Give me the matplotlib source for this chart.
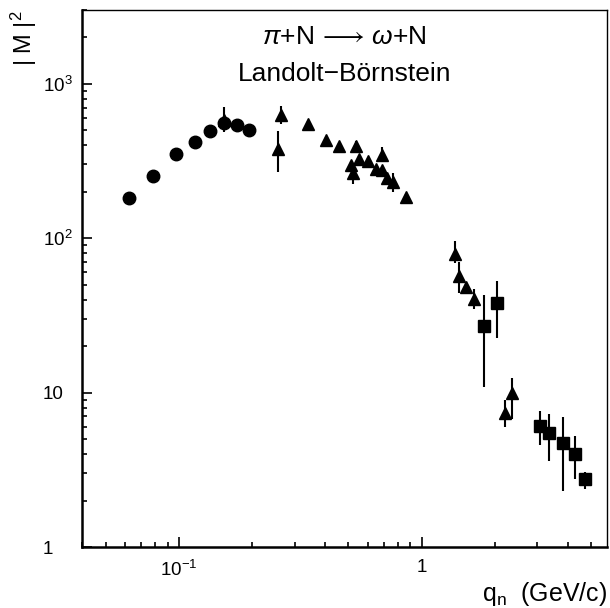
import numpy as np
import matplotlib
matplotlib.use('Agg')
import matplotlib.pyplot as plt
from matplotlib.ticker import FixedLocator, FixedFormatter, LogLocator, NullFormatter

plt.rcParams['font.family'] = ['Liberation Sans', 'DejaVu Sans']
plt.rcParams['mathtext.fontset'] = 'custom'
plt.rcParams['mathtext.rm'] = 'Liberation Sans'
plt.rcParams['mathtext.it'] = 'Liberation Sans:italic'
plt.rcParams['mathtext.bf'] = 'Liberation Sans:bold'

# --- data (q_n in GeV/c, |M|^2)
circ_x = [0.0623, 0.0784, 0.0972, 0.1167, 0.135, 0.154, 0.174, 0.194]
circ_y = [183, 251, 349, 422, 494, 557, 537, 504]

tri_x = [0.154, 0.256, 0.265, 0.342, 0.403, 0.457, 0.511, 0.524, 0.535, 0.552,
         0.601, 0.647, 0.687, 0.689, 0.722, 0.765, 0.865,
         1.37, 1.42, 1.52, 1.65, 2.20, 2.36]
tri_y = [585, 378, 631, 551, 432, 393, 299, 264, 393, 327,
         314, 281, 347, 277, 245, 230, 185,
         79, 56.5, 48.2, 40.5, 7.35, 9.9]
tri_lo = [490, 267, 549, 530, 415, 378, 285, 225, 360, 310,
          300, 270, 320, 265, 235, 198, 178,
          69, 44, 46, 35, 6.0, 6.7]
tri_hi = [711, 497, 721, 572, 450, 410, 315, 280, 425, 345,
          330, 292, 387, 290, 256, 265, 192,
          96, 69.6, 51, 47, 9.0, 12.5]

sq_x = [1.80, 2.04, 3.06, 3.35, 3.83, 4.28, 4.69]
sq_y = [27, 38, 6.1, 5.45, 4.7, 4.0, 2.75]
sq_lo = [10.8, 22.5, 4.6, 3.6, 2.3, 2.75, 2.38]
sq_hi = [43, 53, 7.6, 7.25, 6.9, 5.2, 3.08]

xticks = [0.1, 1]
xlabels = ['10$^{-1}$', '1']
yticks = [1, 10, 100, 1000]
ylabels = ['1', '10', '10$^{2}$', '10$^{3}$']


def errs(y, lo, hi):
    y = np.array(y)
    return [y - np.array(lo), np.array(hi) - y]


fig = plt.figure(figsize=(6.10, 6.08), dpi=100)
ax = fig.add_axes([82/610, 61/608, 525/610, 537/608])
ax.set_xscale('log')
ax.set_yscale('log')
ax.set_xlim(0.04, 5.8)
ax.set_ylim(1, 3000)

ax.plot(circ_x, circ_y, 'o', color='black', ms=9, zorder=3)
ax.errorbar(tri_x, tri_y, yerr=errs(tri_y, tri_lo, tri_hi), fmt='^', color='black',
            ms=9, elinewidth=1.5, capsize=0, zorder=4)
ax.errorbar(sq_x, sq_y, yerr=errs(sq_y, sq_lo, sq_hi), fmt='s', color='black',
            ms=9, elinewidth=1.5, capsize=0, zorder=4)

for s in ['top', 'right']:
    ax.spines[s].set_linewidth(1.0)
for s in ['left', 'bottom']:
    ax.spines[s].set_linewidth(1.8)

ax.xaxis.set_major_locator(FixedLocator(xticks))
ax.xaxis.set_major_formatter(FixedFormatter(xlabels))
ax.xaxis.set_minor_locator(LogLocator(base=10, subs=np.arange(2, 10)))
ax.xaxis.set_minor_formatter(NullFormatter())
ax.yaxis.set_major_locator(FixedLocator(yticks))
ax.yaxis.set_major_formatter(FixedFormatter(ylabels))
ax.yaxis.set_minor_locator(LogLocator(base=10, subs=np.arange(2, 10)))
ax.yaxis.set_minor_formatter(NullFormatter())

ax.tick_params(which='both', direction='in', top=False, right=False, width=1.2)
ax.tick_params(which='major', length=7, labelsize=13.5)
ax.tick_params(which='minor', length=3.5)
ax.tick_params(axis='x', which='major', pad=9)
ax.tick_params(axis='y', which='major', pad=28)
for lab in ax.get_yticklabels():
    lab.set_horizontalalignment('left')

fig.text(24/610, 1 - 10/608, '| M |$^2$', rotation=90, ha='center', va='top', fontsize=17)
fig.text(607/610, 1 - 594/608, 'q$_{\\rm n}$  (GeV/c)', ha='right', va='center', fontsize=18)

ax.text(0.5, 0.95, '$\\pi$+N$\\,\\longrightarrow\\,$$\\omega$+N', transform=ax.transAxes,
        ha='center', va='center', fontsize=19)
ax.text(0.5, 0.88, 'Landolt\u2212Börnstein', transform=ax.transAxes,
        ha='center', va='center', fontsize=19)

fig.savefig('out.png', dpi=100)
